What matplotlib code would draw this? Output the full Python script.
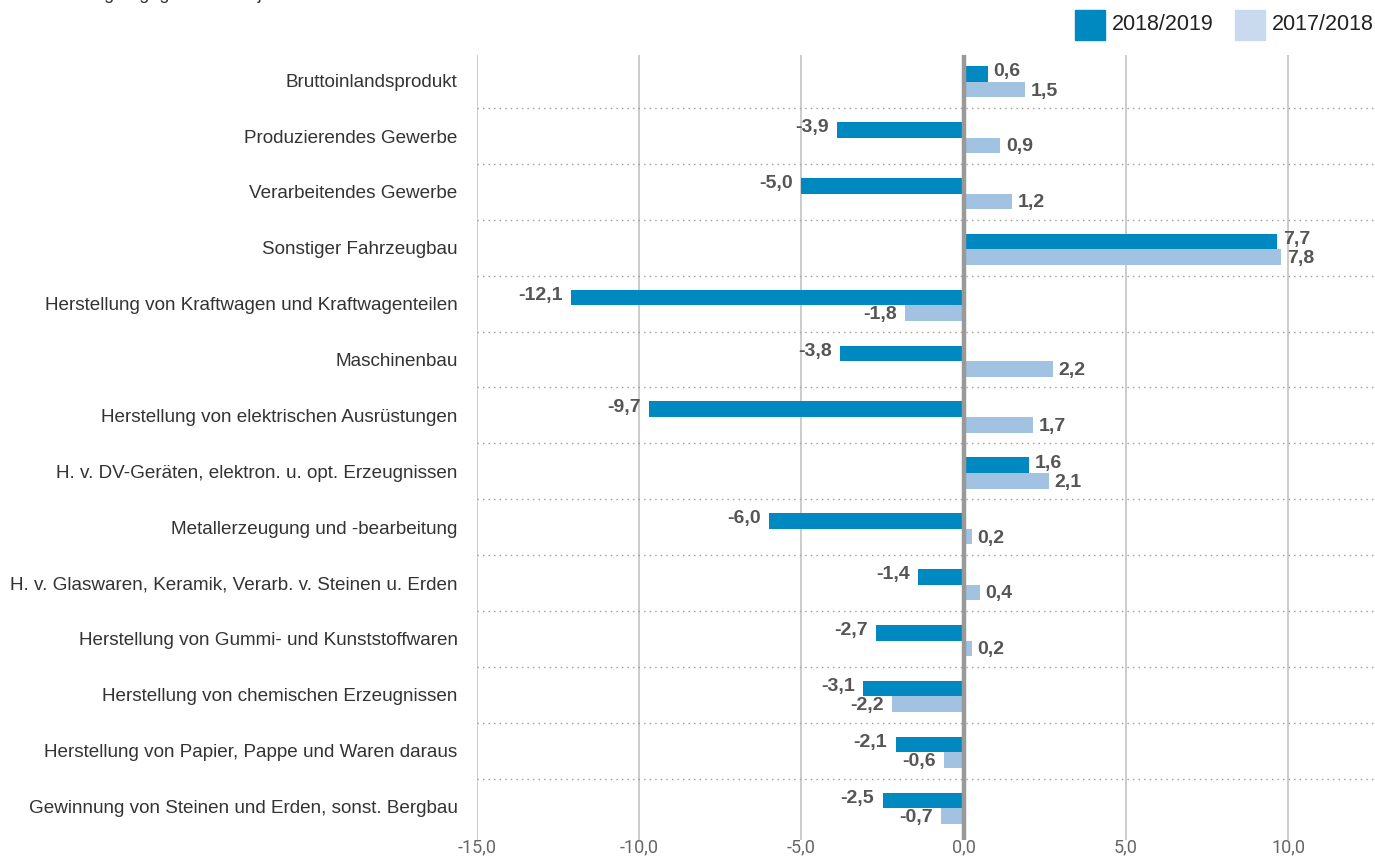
import numpy as np
import matplotlib
matplotlib.use("Agg")
import matplotlib.pyplot as plt
from matplotlib.patches import Rectangle

plt.rcParams['font.family'] = ['Liberation Sans', 'DejaVu Sans']

kategorien = [
    "Bruttoinlandsprodukt",
    "Produzierendes Gewerbe",
    "Verarbeitendes Gewerbe",
    "Sonstiger Fahrzeugbau",
    "Herstellung von Kraftwagen und Kraftwagenteilen",
    "Maschinenbau",
    "Herstellung von elektrischen Ausrüstungen",
    "H. v. DV-Geräten, elektron. u. opt. Erzeugnissen",
    "Metallerzeugung und -bearbeitung",
    "H. v. Glaswaren, Keramik, Verarb. v. Steinen u. Erden",
    "Herstellung von Gummi- und Kunststoffwaren",
    "Herstellung von chemischen Erzeugnissen",
    "Herstellung von Papier, Pappe und Waren daraus",
    "Gewinnung von Steinen und Erden, sonst. Bergbau",
]
werte_2019 = [0.6, -3.9, -5.0, 7.7, -12.1, -3.8, -9.7, 1.6, -6.0, -1.4, -2.7, -3.1, -2.1, -2.5]
werte_2018 = [1.5, 0.9, 1.2, 7.8, -1.8, 2.2, 1.7, 2.1, 0.2, 0.4, 0.2, -2.2, -0.6, -0.7]
serien = ["2018/2019", "2017/2018"]
x_ticks = [-15, -10, -5, 0, 5, 10]

# im Original sind die positiven Balken ca. 25 % länger gezeichnet als die Achse angibt
STRECKUNG_POS = 1.255

dunkel = "#0088C1"
hell = "#A2C2E1"
hell_legende = "#C9DAEF"

def balkenlaenge(werte):
    w = np.array(werte)
    return np.where(w > 0, w * STRECKUNG_POS, w)

fig = plt.figure(figsize=(13.75, 8.58), dpi=100)
ax = fig.add_axes([477 / 1375, 1 - 840 / 858, 1 - 477 / 1375, (840 - 55) / 858])

y = np.arange(len(kategorien))
h = 0.28
y_d = y - 0.11
y_h = y + 0.17

ax.barh(y_d, balkenlaenge(werte_2019), height=h, color=dunkel, zorder=3)
ax.barh(y_h, balkenlaenge(werte_2018), height=h, color=hell, zorder=3)

# Beschriftungen: dunkle etwas nach oben, helle etwas nach unten
for werte, ys, dy in [(werte_2019, y_d, 1.5), (werte_2018, y_h, -1)]:
    for v, l, yy in zip(werte, balkenlaenge(werte), ys):
        txt = f"{v:.1f}".replace(".", ",")
        if v >= 0:
            ax.annotate(txt, (l, yy), xytext=(4, dy), textcoords="offset points",
                        ha="left", va="center", fontsize=14, fontweight="bold", color="#555555")
        else:
            ax.annotate(txt, (l, yy), xytext=(-6, dy), textcoords="offset points",
                        ha="right", va="center", fontsize=14, fontweight="bold", color="#555555")

# Gitter
for t in x_ticks:
    if t == 0:
        ax.axvline(0, color="#999999", lw=3.2, zorder=4)
    else:
        ax.axvline(t, color="#C8C8C8", lw=1.3, zorder=1)
for i in range(len(kategorien) - 1):
    ax.plot([-15, 13], [i + 0.5, i + 0.5], color="#9A9A9A", lw=1,
            linestyle=(0, (1, 3)), zorder=2, clip_on=False)

ax.set_xlim(-15, 12.68)
ax.set_ylim(13.6, -0.45)
ax.set_yticks(y)
ax.set_yticklabels(kategorien, fontsize=13.6, color="#333333")
ax.set_xticks(x_ticks)
ax.set_xticklabels([f"{t:.1f}".replace(".", ",") for t in x_ticks],
                   fontsize=13, color="#666666", family=['Roboto'])
ax.tick_params(axis="y", length=0, pad=14)
ax.tick_params(axis="x", length=0, pad=-1)
for s in ax.spines.values():
    s.set_visible(False)

# Legende
fig.patches.append(Rectangle((1075 / 1375, 1 - 40 / 858), 30 / 1375, 30 / 858,
                             transform=fig.transFigure, color=dunkel))
fig.text(1112 / 1375, 1 - 25 / 858, serien[0], fontsize=15.5, color="#222222", va="center")
fig.patches.append(Rectangle((1235 / 1375, 1 - 40 / 858), 30 / 1375, 30 / 858,
                             transform=fig.transFigure, color=hell_legende))
fig.text(1272 / 1375, 1 - 25 / 858, serien[1], fontsize=15.5, color="#222222", va="center")

# abgeschnittene Überschrift oben links
fig.text(11 / 1375, 1 + 1 / 858, "Veränderungen gegenüber Vorjahr in %", fontsize=13,
         color="#333333", va="baseline")

fig.savefig("out.png", dpi=100)
